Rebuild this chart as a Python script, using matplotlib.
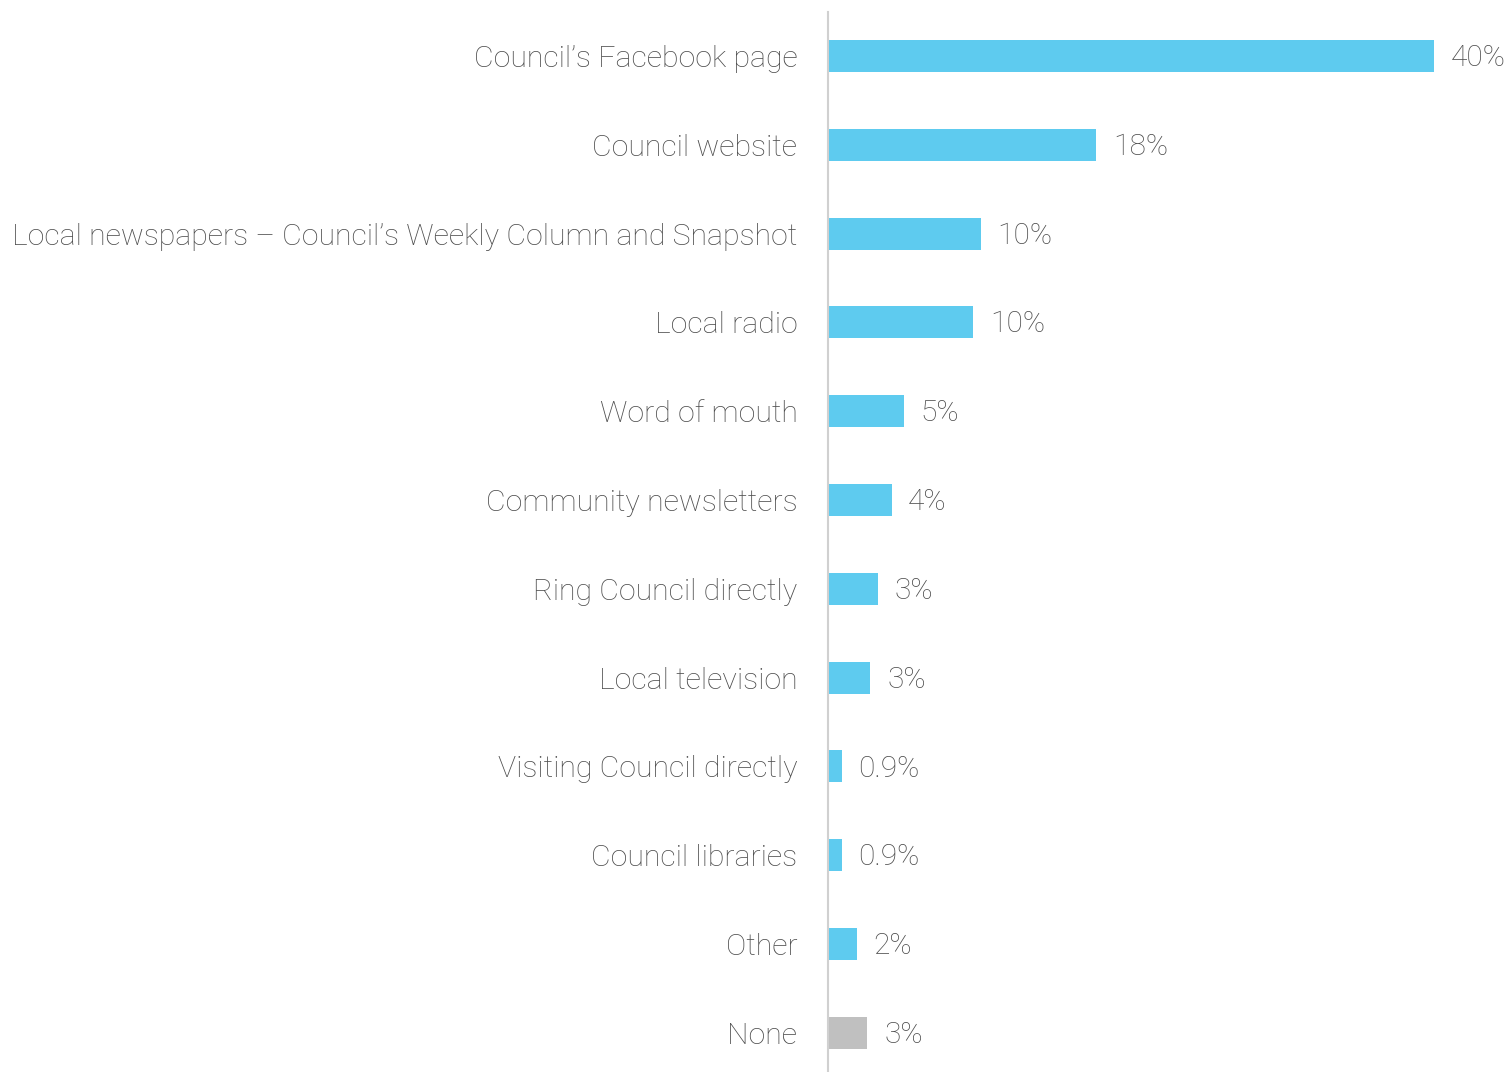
import matplotlib
matplotlib.use("Agg")
import matplotlib.pyplot as plt

# Information sources and share of respondents (%)
categories = [
    "Council\u2019s Facebook page",
    "Council website",
    "Local newspapers \u2013 Council\u2019s Weekly Column and Snapshot",
    "Local radio",
    "Word of mouth",
    "Community newsletters",
    "Ring Council directly",
    "Local television",
    "Visiting Council directly",
    "Council libraries",
    "Other",
    "None",
]
values = [40.0, 17.7, 10.1, 9.6, 5.0, 4.2, 3.3, 2.8, 0.9, 0.9, 1.9, 2.6]
highlight = [True] * 11 + [False]

BLUE = "#5ecbef"
GREY = "#c0c0c0"
TEXT = "#4d4d4d"

plt.rcParams["font.family"] = ["Roboto", "DejaVu Sans"]

fig = plt.figure(figsize=(15.12, 10.72), dpi=100)
W, H = 1512, 1072
ax = fig.add_axes([828 / W, 0, (1434 - 828) / W, (1072 - 12) / H])

ypos = list(range(len(categories)))
colors = [BLUE if h else GREY for h in highlight]
ax.barh(ypos, values, height=0.36, color=colors, zorder=2)

ax.set_xlim(0, 40)
ax.set_ylim(11.44, -0.495)

for y, v in zip(ypos, values):
    label = f"{v:.1f}%" if v < 1 else f"{v:.0f}%"
    ax.annotate(label, xy=(v, y), xytext=(12, -1.5), textcoords="offset points",
                va="center", ha="left", fontsize=21.5, color=TEXT,
                fontweight="light", annotation_clip=False)

ax.set_yticks(ypos)
ax.set_yticklabels(categories, fontsize=21.8, color=TEXT, fontweight="light")
for lbl in ax.get_yticklabels():
    lbl.set_verticalalignment("center_baseline")
ax.tick_params(axis="y", length=0, pad=22)
ax.set_xticks([])

for side in ("top", "right", "bottom"):
    ax.spines[side].set_visible(False)
ax.spines["left"].set_color("#d0d0d0")
ax.spines["left"].set_linewidth(1.5)

fig.savefig("out.png", dpi=100, facecolor="white")
